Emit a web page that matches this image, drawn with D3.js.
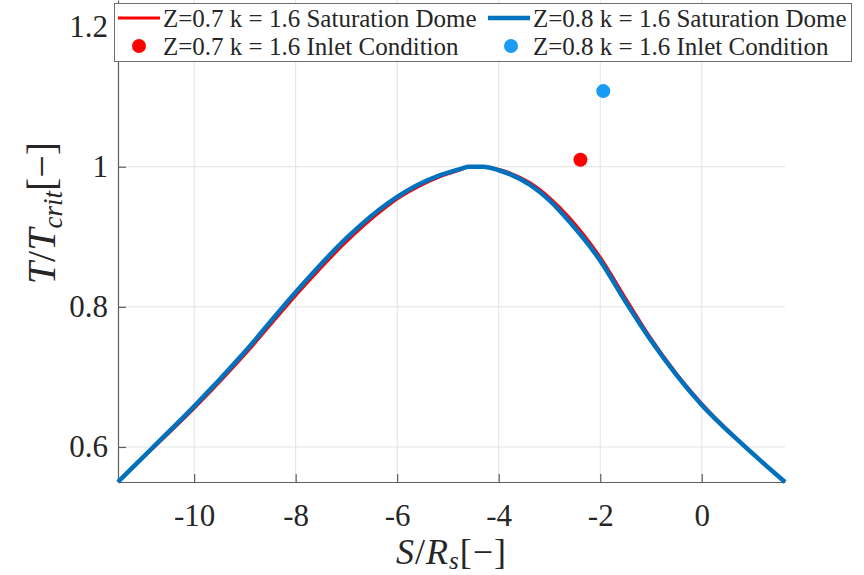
<!DOCTYPE html>
<html>
<head>
<meta charset="utf-8">
<script src="https://cdn.jsdelivr.net/npm/d3@7"></script>
<style>
  html, body { margin: 0; padding: 0; background: #fff; }
  svg { display: block; }
  text { font-family: "Liberation Serif", "Times New Roman", serif; fill: #262626; }
</style>
</head>
<body>
<svg id="chart" width="864" height="575"></svg>
<script>
// Saturation dome, Z = 0.7, k = 1.6
const domeS07 = [-11.5, -10.84, -10, -9, -8, -7, -6.33, -6, -5.6, -5.15, -4.7, -4.6, -4.3, -4.0, -3.77, -3.38, -3.0, -2.6, -2.0, -1.48, -1.0, -0.5, 0, 0.82, 1.64];
const domeT07 = [0.55, 0.596, 0.655, 0.732, 0.816, 0.893, 0.936, 0.954, 0.971, 0.986, 0.997, 1.0, 1.0, 0.996, 0.991, 0.977, 0.956, 0.927, 0.871, 0.810, 0.755, 0.705, 0.662, 0.603, 0.55];

// Saturation dome, Z = 0.8, k = 1.6
const domeS08 = [-11.5, -10.84, -10, -9, -8, -7, -6.33, -6, -5.6, -5.15, -4.7, -4.6, -4.3, -4.0, -3.77, -3.38, -3.0, -2.6, -2.0, -1.48, -1.0, -0.5, 0, 0.82, 1.64];
const domeT08 = [0.55, 0.5975, 0.658, 0.736, 0.821, 0.898, 0.940, 0.957, 0.974, 0.988, 0.998, 1.0, 1.0, 0.995, 0.989, 0.974, 0.952, 0.921, 0.866, 0.805, 0.752, 0.703, 0.660, 0.6025, 0.55];

// Inlet conditions [S/Rs, T/Tcrit]
const inlet07 = [-2.39, 1.01];
const inlet08 = [-1.94, 1.108];

const xTicks = [-10, -8, -6, -4, -2, 0];
const yTicks = [0.6, 0.8, 1.0, 1.2];
const xTickLabels = ["-10", "-8", "-6", "-4", "-2", "0"];
const yTickLabels = ["0.6", "0.8", "1", "1.2"];

const legendLabels = [
  "Z=0.7 k = 1.6 Saturation Dome",
  "Z=0.8 k = 1.6 Saturation Dome",
  "Z=0.7 k = 1.6 Inlet Condition",
  "Z=0.8 k = 1.6 Inlet Condition"
];

const colRed = "#ff0000";
const colBlue = "#0072bd";
const colBlueDot = "#1a9cf5";

const svg = d3.select("#chart");
const plot = { left: 118, right: 785, top: 0, bottom: 482 };

const x = d3.scaleLinear().domain([-11.5, 1.64]).range([plot.left, plot.right]);
const y = d3.scaleLinear().domain([0.55, 1.238]).range([plot.bottom, plot.top]);

// grid
const grid = svg.append("g");
grid.selectAll("line.gx").data(xTicks).join("line")
  .attr("x1", d => x(d)).attr("x2", d => x(d))
  .attr("y1", plot.top).attr("y2", plot.bottom)
  .attr("stroke", "#e2e2e2").attr("stroke-width", 1);
grid.selectAll("line.gy").data(yTicks).join("line")
  .attr("y1", d => y(d)).attr("y2", d => y(d))
  .attr("x1", plot.left).attr("x2", plot.right)
  .attr("stroke", "#e2e2e2").attr("stroke-width", 1);

// axes (ticks point inward)
const xAxis = d3.axisBottom(x).tickValues(xTicks).tickSize(-8).tickSizeOuter(0)
  .tickFormat((d, i) => xTickLabels[i]).tickPadding(18);
const yAxis = d3.axisLeft(y).tickValues(yTicks).tickSize(-8).tickSizeOuter(0)
  .tickFormat((d, i) => yTickLabels[i]).tickPadding(18);

const gx = svg.append("g").attr("transform", `translate(0,${plot.bottom})`).call(xAxis);
const gy = svg.append("g").attr("transform", `translate(${plot.left},0)`).call(yAxis);
[gx, gy].forEach(g => {
  g.select(".domain").attr("stroke", "#5e5e5e").attr("stroke-width", 1.2);
  g.selectAll(".tick line").attr("stroke", "#5e5e5e").attr("stroke-width", 1.2);
  g.selectAll(".tick text").attr("font-family", "Liberation Serif, serif")
    .attr("font-size", 31).attr("fill", "#262626");
});
gx.selectAll(".tick text").attr("dy", "0.85em");
gy.selectAll(".tick text").attr("x", -10);

// curves
const line = d3.line().x(d => x(d[0])).y(d => y(d[1])).curve(d3.curveMonotoneX);
const dome07 = domeS07.map((s, i) => [s, domeT07[i]]);
const dome08 = domeS08.map((s, i) => [s, domeT08[i]]);

svg.append("path").datum(dome07).attr("d", line)
  .attr("fill", "none").attr("stroke", colRed).attr("stroke-width", 3);
svg.append("path").datum(dome08).attr("d", line)
  .attr("fill", "none").attr("stroke", colBlue).attr("stroke-width", 4.5);

svg.append("circle").attr("cx", x(inlet07[0])).attr("cy", y(inlet07[1])).attr("r", 7).attr("fill", colRed);
svg.append("circle").attr("cx", x(inlet08[0])).attr("cy", y(inlet08[1])).attr("r", 7).attr("fill", colBlueDot);

// axis labels
const xl = svg.append("text").attr("x", (plot.left + plot.right) / 2).attr("y", 564)
  .attr("text-anchor", "middle").attr("font-size", 36).attr("letter-spacing", 1);
xl.append("tspan").attr("font-style", "italic").text("S");
xl.append("tspan").text("/");
xl.append("tspan").attr("font-style", "italic").text("R");
xl.append("tspan").attr("font-style", "italic").attr("font-size", 25).attr("dy", 5).text("s");
xl.append("tspan").attr("dy", -5).text("[−]");

const yl = svg.append("text").attr("transform", "translate(55,213) rotate(-90)")
  .attr("text-anchor", "middle").attr("font-size", 40);
yl.append("tspan").attr("font-style", "italic").text("T");
yl.append("tspan").text("/");
yl.append("tspan").attr("font-style", "italic").text("T");
yl.append("tspan").attr("font-style", "italic").attr("font-size", 27).attr("dy", 7).text("crit");
yl.append("tspan").attr("dy", -7).text("[−]");

// legend
const lg = svg.append("g");
lg.append("rect").attr("x", 114.5).attr("y", 3.5).attr("width", 737).attr("height", 58)
  .attr("fill", "#fff").attr("stroke", "#6e6e6e").attr("stroke-width", 1);
const items = [
  { kind: "line", color: colRed, w: 3, cx: 139, cy: 18, tx: 163, label: legendLabels[0] },
  { kind: "line", color: colBlue, w: 4.5, cx: 509, cy: 18, tx: 533, label: legendLabels[1] },
  { kind: "dot", color: colRed, cx: 139, cy: 46, tx: 163, label: legendLabels[2] },
  { kind: "dot", color: colBlueDot, cx: 511, cy: 46, tx: 533, label: legendLabels[3] }
];
items.forEach(it => {
  if (it.kind === "line") {
    lg.append("line").attr("x1", it.cx - 21).attr("x2", it.cx + 21)
      .attr("y1", it.cy).attr("y2", it.cy)
      .attr("stroke", it.color).attr("stroke-width", it.w);
  } else {
    lg.append("circle").attr("cx", it.cx).attr("cy", it.cy).attr("r", 7).attr("fill", it.color);
  }
  lg.append("text").attr("x", it.tx).attr("y", it.cy).attr("dy", "0.35em")
    .attr("font-size", 25).text(it.label);
});
</script>
</body>
</html>
